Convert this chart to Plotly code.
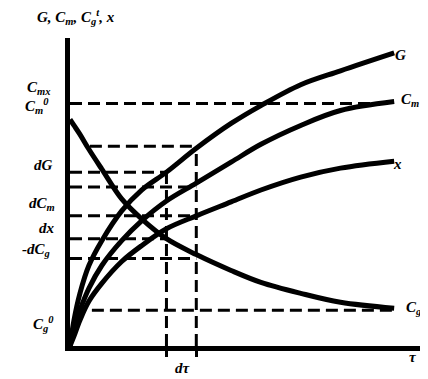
import plotly.graph_objects as go

# time axis (tau) shared by the curves
tau = [0, 0.4, 1.0, 1.9, 3.2, 5.2, 7.2, 9.7, 12.7, 16.2, 19.2, 23.2, 27.2, 32.6]

G_vals = [0, 2.6, 5.3, 8.1, 10.6, 13.6, 15.7, 17.5, 19.9, 22.4, 24.2, 26.3, 27.7, 29.5]
Cm_vals = [0, 1.8, 3.6, 5.8, 8.1, 10.6, 12.6, 14.6, 16.4, 18.5, 20.3, 22.2, 23.7, 24.6]
x_vals = [0, 1.0, 2.6, 4.5, 6.3, 8.5, 10.1, 11.8, 13.1, 14.5, 15.7, 17.0, 17.9, 18.6]
Cg_vals = [22.8, 22.2, 21.3, 19.8, 17.8, 14.8, 12.8, 10.8, 9.2, 7.6, 6.4, 5.3, 4.4, 3.8]

# tau and tau + dtau
tau1 = 9.7
tau2 = 12.7

# dashed projection lines: level, start, end
h_levels = [24.4, 20.1, 17.5, 16.0, 13.1, 10.8, 8.8, 3.6]
h_start = [0, 2.0, 0, 0, 0, 0, 0, 2.2]
h_end = [32.2, tau2, tau1, tau2, tau2, tau1, tau2, 32.6]

# page has an 8px body margin, so the figure is made 8px smaller
OFF = 8
W, H = 428 - OFF, 379 - OFF
L, R, T, B = 70 - OFF, 3, 38 - OFF, 33

fig = go.Figure()

dash = "12px,6px"
for lev, a, b in zip(h_levels, h_start, h_end):
    fig.add_trace(go.Scatter(x=[a, b], y=[lev, lev], mode="lines",
                             line=dict(color="black", width=3, dash=dash)))

fig.add_trace(go.Scatter(x=[tau1, tau1], y=[0, G_vals[7]], mode="lines",
                         line=dict(color="black", width=3, dash=dash)))
fig.add_trace(go.Scatter(x=[tau2, tau2], y=[0, G_vals[8]], mode="lines",
                         line=dict(color="black", width=3, dash=dash)))

for vals in [G_vals, Cm_vals, x_vals, Cg_vals]:
    fig.add_trace(go.Scatter(x=tau, y=vals, mode="lines", line_shape="spline",
                             line=dict(color="black", width=5)))

# labels placed by pixel position on the page
font = dict(family="Liberation Serif", size=15, color="black")
labels = [
    (76, 17, "G, C<sub>m</sub>, C<sub>g</sub><sup>t</sup>, x"),
    (38, 88, "C<sub>mx</sub>"),
    (37, 106, "C<sub>m</sub><sup>0</sup>"),
    (43, 165, "dG"),
    (42, 204, "dC<sub>m</sub>"),
    (47, 228, "dx"),
    (36, 250, "-dC<sub>g</sub>"),
    (43, 324, "C<sub>g</sub><sup>0</sup>"),
    (400, 55, "G"),
    (410, 100, "C<sub>m</sub>"),
    (397, 164, "x"),
    (413, 308, "C<sub>g</sub>"),
    (413, 357, "τ"),
    (183, 368, "dτ"),
]
pw = W - L - R
ph = H - T - B
for px, py, txt in labels:
    fig.add_annotation(x=(px - OFF - L) / pw, y=(H - B - (py - OFF)) / ph,
                       xref="paper", yref="paper",
                       text="<b><i>" + txt + "</i></b>", showarrow=False,
                       font=font, xanchor="center", yanchor="middle")

fig.update_xaxes(range=[0, 35.7], showline=True, linewidth=5, linecolor="black",
                 showgrid=False, zeroline=False, tickvals=[tau1, tau2], ticks="outside",
                 ticklen=6, tickwidth=3, tickcolor="black", showticklabels=False)
fig.update_yaxes(range=[0, 31], showline=True, linewidth=5, linecolor="black",
                 showgrid=False, zeroline=False, showticklabels=False, ticks="")

fig.update_layout(width=W, height=H, margin=dict(l=L, r=R, t=T, b=B),
                  plot_bgcolor="white", paper_bgcolor="white", showlegend=False)
fig.write_html("out.html")
